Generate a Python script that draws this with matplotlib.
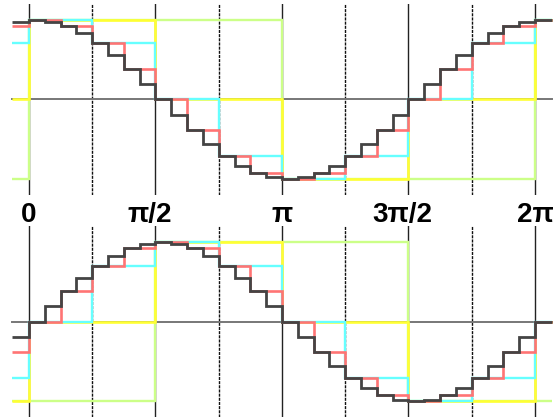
import numpy as np
import matplotlib
matplotlib.use("Agg")
import matplotlib.pyplot as plt
import matplotlib.transforms as mtransforms

# ---- data: sample-and-hold values ----
cos32 = [1.000, 0.981, 0.924, 0.831, 0.707, 0.556, 0.383, 0.195,
         0.000, -0.195, -0.383, -0.556, -0.707, -0.831, -0.924, -0.981,
         -1.000, -0.981, -0.924, -0.831, -0.707, -0.556, -0.383, -0.195,
         0.000, 0.195, 0.383, 0.556, 0.707, 0.831, 0.924, 0.981]
cos16 = [1.000, 0.924, 0.707, 0.383, 0.000, -0.383, -0.707, -0.924,
         -1.000, -0.924, -0.707, -0.383, 0.000, 0.383, 0.707, 0.924]
cos8 = [1.000, 0.707, 0.000, -0.707, -1.000, -0.707, 0.000, 0.707]
cos4 = [1.0, 0.0, -1.0, 0.0]
cos2 = [1.0, -1.0]

sin32 = [0.000, 0.195, 0.383, 0.556, 0.707, 0.831, 0.924, 0.981,
         1.000, 0.981, 0.924, 0.831, 0.707, 0.556, 0.383, 0.195,
         0.000, -0.195, -0.383, -0.556, -0.707, -0.831, -0.924, -0.981,
         -1.000, -0.981, -0.924, -0.831, -0.707, -0.556, -0.383, -0.195]
sin16 = [0.000, 0.383, 0.707, 0.924, 1.000, 0.924, 0.707, 0.383,
         0.000, -0.383, -0.707, -0.924, -1.000, -0.924, -0.707, -0.383]
sin8 = [0.000, 0.707, 1.000, 0.707, 0.000, -0.707, -1.000, -0.707]
sin4 = [0.0, 1.0, 0.0, -1.0]
# coarse sine: held values and their switching times (in units of pi)
sin2_vals = [-1.0, 1.0, -1.0]
sin2_times = [0.5, 1.5]

tick_labels = ["0", "π/2", "π", "3π/2", "2π"]

# ---- style ----
colors = {2: "#ccff88", 4: "#ffff33", 8: "#66ffff", 16: "#ff7474", 32: "#444444"}
widths = {2: 1.7, 4: 1.9, 8: 1.7, 16: 1.9, 32: 2.0}
ext = 0.21
TWO_PI = 2 * np.pi

W, H = 556, 419
fig = plt.figure(figsize=(W / 100, H / 100), dpi=100)
fig.patch.set_facecolor("white")

xl = (-29 / 80.53, (556 - 29) / 80.53)
ax_top = fig.add_axes([0, (419 - 194.9) / 419, 1, 190.8 / 419])
ax_bot = fig.add_axes([0, (419 - 417.2) / 419, 1, 190.8 / 419])


def decorate(ax):
    ax.set_xlim(*xl)
    ax.set_ylim(-1.2, 1.2)
    ax.axis("off")
    for k in range(9):
        x = k * np.pi / 4
        if k % 2 == 0:
            ax.axvline(x, color="#222222", lw=1.0, zorder=1)
        else:
            ax.axvline(x, color="#111111", lw=1.0, ls=(0, (2.2, 0.8)), zorder=1)
    ax.plot([-ext, TWO_PI + ext], [0, 0], color="#777777", lw=1.4, zorder=1)


def periodic_stairs(ax, samples, n):
    s = np.asarray(samples)
    vals = np.r_[s[-1], s, s[0]]
    edges = np.r_[-ext, np.linspace(0, TWO_PI, n + 1), TWO_PI + ext]
    ax.stairs(vals, edges, baseline=None, color=colors[n], lw=widths[n],
              zorder=2 + np.log2(n))


decorate(ax_top)
decorate(ax_bot)

for n, s in [(2, cos2), (4, cos4), (8, cos8), (16, cos16), (32, cos32)]:
    periodic_stairs(ax_top, s, n)

edges2 = np.r_[-ext, np.array(sin2_times) * np.pi, TWO_PI + ext]
ax_bot.stairs(sin2_vals, edges2, baseline=None, color=colors[2], lw=widths[2], zorder=3)
for n, s in [(4, sin4), (8, sin8), (16, sin16), (32, sin32)]:
    periodic_stairs(ax_bot, s, n)

# tick labels between the panels
trans = mtransforms.blended_transform_factory(ax_top.transData, fig.transFigure)
offsets = [0, -6, 0, -6, 0]
for i, lab in enumerate(tick_labels):
    t = trans + mtransforms.ScaledTranslation(offsets[i] / 100, 0, fig.dpi_scale_trans)
    fig.text(i * np.pi / 2, (419 - 222) / 419, lab, transform=t,
             ha="center", va="baseline", fontsize=20, fontweight="bold",
             family=["Liberation Sans", "DejaVu Sans"])

fig.savefig("out.png", dpi=100)
